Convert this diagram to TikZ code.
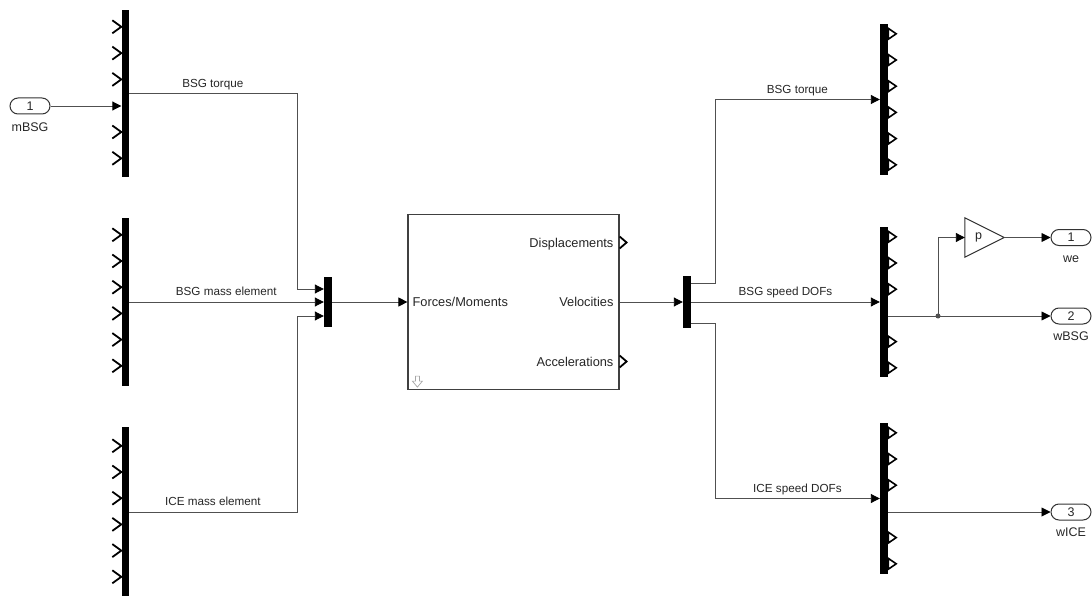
\documentclass[tikz,border=0pt]{standalone}
\usepackage{fontspec}
\setmainfont{Liberation Sans}
\usetikzlibrary{arrows.meta,positioning,calc}
\usepackage{xcolor}
\definecolor{wiregray}{HTML}{505050}
\definecolor{ink}{HTML}{262626}
\tikzset{
  bus/.style={fill=black, draw=none, minimum width=7pt, inner sep=0pt},
  subsys/.style={draw=black!75, line width=1.2pt, fill=white, minimum width=211pt, minimum height=175pt, inner sep=0pt},
  port/.style={draw=black!80, line width=1pt, rounded corners=8pt, minimum width=40pt, minimum height=16pt, inner sep=0pt, font=\fontsize{12.5}{14}\selectfont, text=ink},
  portname/.style={font=\fontsize{12.5}{14}\selectfont, text=ink, inner sep=0pt, text height=9pt, text depth=0pt},
  siglabel/.style={font=\fontsize{11.7}{13}\selectfont, text=ink, inner sep=0pt, text depth=0pt, above=6pt},
  blocklabel/.style={font=\fontsize{12.8}{14}\selectfont, text=ink, inner sep=0pt},
  sigline/.style={draw=wiregray, line width=0.9pt},
  sigarrow/.style={sigline, -{Triangle[length=9pt,width=9pt,color=black]}},
  inchev/.style={draw=black, line width=1.8pt},
  outchev/.style={draw=black, fill=white, line width=1.6pt, line join=miter},
  gainshape/.style={draw=black!80, line width=1pt, fill=white}
}
\begin{document}
\begin{tikzpicture}[x=1pt, y=-1pt]
  \useasboundingbox (0,0) rectangle (1092,596);
  % bus blocks
  \node[bus, minimum height=167pt] (lbus1) at (125,93.5) {};
  \node[bus, minimum height=168pt] (lbus2) at (125,302) {};
  \node[bus, minimum height=170pt] (lbus3) at (125,512) {};
  \node[bus, minimum width=8pt, minimum height=50pt] (mux) at (328,302) {};
  \node[subsys] (plant) at (513.5,302) {};
  \node[bus, minimum width=8pt, minimum height=52pt] (demux) at (687,302) {};
  \node[bus, minimum width=8pt, minimum height=151pt] (rbus1) at (884,99.5) {};
  \node[bus, minimum width=8pt, minimum height=150pt] (rbus2) at (884,302) {};
  \node[bus, minimum width=8pt, minimum height=151pt] (rbus3) at (884,498.5) {};
  \node[minimum width=39pt, minimum height=39pt, inner sep=0pt] (gain) at (984.5,237.5) {};
  \draw[gainshape] (gain.north west) -- (gain.east) -- (gain.south west) -- cycle;
  \node[font=\fontsize{12.5}{14}\selectfont, text=ink] (gaintxt) at ($(gain.center)+(-6,0)$) {p};

  % ports
  \node[port] (mBSG) at (30,106) {1};
  \node[portname, below=8pt of mBSG] (mBSGname) {mBSG};
  \node[port] (we) at (1071,237.5) {1};
  \node[portname, below=7pt of we] (wename) {we};
  \node[port] (wBSG) at (1071,316) {2};
  \node[portname, below=7pt of wBSG] (wBSGname) {wBSG};
  \node[port] (wICE) at (1071,512) {3};
  \node[portname, below=7pt of wICE] (wICEname) {wICE};

  % block labels
  \node[blocklabel, anchor=base west] (fmlabel) at ($(plant.west)+(5,4.6)$) {Forces/Moments};
  \node[blocklabel, anchor=base east] (displabel) at ($(plant.east)+(-6,-54.9)$) {Displacements};
  \node[blocklabel, anchor=base east] (vellabel) at ($(plant.east)+(-6,4.6)$) {Velocities};
  \node[blocklabel, anchor=base east] (acclabel) at ($(plant.east)+(-6,64.1)$) {Accelerations};
  \foreach \dy in {-59.5,59.5}
    \draw[inchev] ($(plant.east)+(0,\dy-6)$) -- ++(7,6) -- ++(-7,6);
  \draw[draw=black!35, line width=0.7pt, fill=white] ($(plant.south west)+(8,-14)$) -- ++(4,0) -- ++(0,5) -- ++(3,0) -- ++(-5,6) -- ++(-5,-6) -- ++(3,0) -- cycle;

  % port marks on the buses
  \foreach \k in {0,1,2,4,5}
    \draw[inchev] ($(lbus1.north west)+(-9,17+26.3*\k-6.5)$) -- ++(9,6.5) -- ++(-9,6.5);
  \foreach \bus/\off in {lbus2/17, lbus3/19}
    \foreach \k in {0,...,5}
      \draw[inchev] ($(\bus.north west)+(-9,\off+26.2*\k-6.5)$) -- ++(9,6.5) -- ++(-9,6.5);
  \foreach \k in {0,...,5}
    \draw[outchev] ($(rbus1.north east)+(0,10+26.2*\k-5.5)$) -- ++(8,5.5) -- ++(-8,5.5) -- cycle;
  \foreach \bus in {rbus2,rbus3}
    \foreach \k in {0,1,2,4,5}
      \draw[outchev] ($(\bus.north east)+(0,10+26.2*\k-5.5)$) -- ++(8,5.5) -- ++(-8,5.5) -- cycle;

  % wiring points
  \coordinate (lsplit) at (297,0);
  \coordinate (rsplit) at (715,0);
  \coordinate (tap) at (938,0);
  \coordinate (mxin1) at ($(mux.west)+(0,-13)$);
  \coordinate (mxin3) at ($(mux.west)+(0,14)$);
  \coordinate (dmx1) at ($(demux.east)+(0,-19)$);
  \coordinate (dmx3) at ($(demux.east)+(0,21)$);
  \coordinate (r2out) at ($(rbus2.east)+(0,14)$);
  \coordinate (r3out) at ($(rbus3.east)+(0,13.5)$);

  % signals
  \draw[sigarrow] (mBSG.east) -- (lbus1.west |- mBSG);
  \draw[sigarrow] (lbus1.east) -- node[siglabel]{BSG torque} (lsplit |- lbus1.east) |- (mxin1);
  \draw[sigarrow] (lbus2.east) -- node[siglabel]{BSG mass element} (mux.west);
  \draw[sigarrow] (lbus3.east) -- node[siglabel]{ICE mass element} (lsplit |- lbus3.east) |- (mxin3);
  \draw[sigarrow] (mux.east) -- (plant.west);
  \draw[sigarrow] (plant.east) -- (demux.west);
  \draw[sigarrow] (dmx1) -| (rsplit |- rbus1.west) -- node[siglabel]{BSG torque} (rbus1.west);
  \draw[sigarrow] (demux.east) -- node[siglabel]{BSG speed DOFs} (rbus2.west);
  \draw[sigarrow] (dmx3) -| (rsplit |- rbus3.west) -- node[siglabel]{ICE speed DOFs} (rbus3.west);
  \draw[sigarrow] (r2out) -- (wBSG.west);
  \draw[sigarrow] (tap |- r2out) |- (gain.west);
  \draw[sigarrow] (gain.east) -- (we.west);
  \draw[sigarrow] (r3out) -- (wICE.west);
  \fill[wiregray] (tap |- r2out) circle (2.5pt);
\end{tikzpicture}
\end{document}
